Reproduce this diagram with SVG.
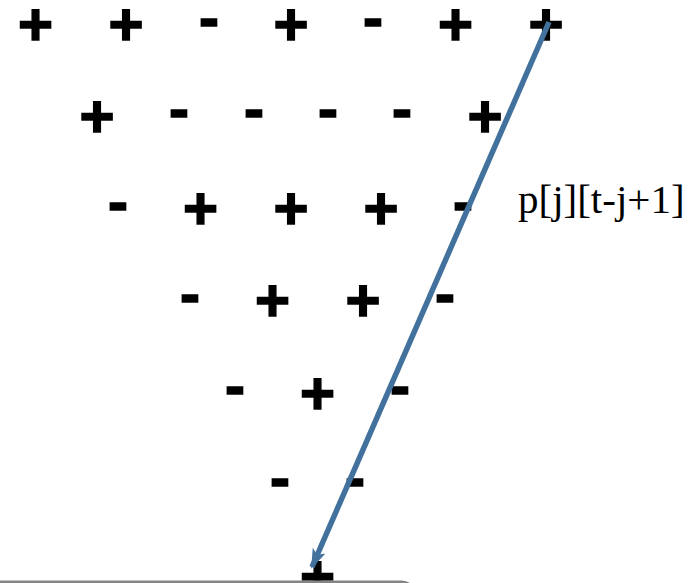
<svg xmlns="http://www.w3.org/2000/svg" width="700" height="583" viewBox="0 0 700 583">
<style>
.s{font-family:"Liberation Sans",Arial,sans-serif;font-weight:bold;font-size:60px;fill:#000;stroke:#000;stroke-width:1.5px;text-anchor:middle}
.lbl{font-family:"Liberation Serif","Times New Roman",serif;font-size:41px;fill:#000}
</style>
<defs>
<marker id="ah" markerWidth="20" markerHeight="14" refX="18" refY="7" orient="auto" markerUnits="userSpaceOnUse" viewBox="0 0 20 14">
<path d="M0,0 L20,7 L0,14 L5,7 z" fill="#41719C"/>
</marker>
</defs>
<rect width="700" height="583" fill="#fff"/>
<g id="signs">
<g id="row1">
<text class="s" x="35.5" y="44.5">+</text>
<text class="s" x="126" y="44.5">+</text>
<text class="s" x="209" y="37.5">-</text>
<text class="s" x="291" y="44.5">+</text>
<text class="s" x="373" y="37.5">-</text>
<text class="s" x="455.5" y="44.5">+</text>
<text class="s" x="546" y="44.5">+</text>
</g>
<g id="row2">
<text class="s" x="97" y="136.5">+</text>
<text class="s" x="179" y="129">-</text>
<text class="s" x="254" y="129">-</text>
<text class="s" x="328" y="129">-</text>
<text class="s" x="402" y="129">-</text>
<text class="s" x="485" y="136.5">+</text>
</g>
<g id="row3">
<text class="s" x="118" y="221.5">-</text>
<text class="s" x="200.5" y="229">+</text>
<text class="s" x="291" y="229">+</text>
<text class="s" x="381" y="229">+</text>
<text class="s" x="463" y="221.5">-</text>
</g>
<g id="row4">
<text class="s" x="190" y="313.5">-</text>
<text class="s" x="272.5" y="321">+</text>
<text class="s" x="363" y="321">+</text>
<text class="s" x="445" y="313.5">-</text>
</g>
<g id="row5">
<text class="s" x="235" y="405.5">-</text>
<text class="s" x="317.5" y="414">+</text>
<text class="s" x="400" y="405.5">-</text>
</g>
<g id="row6">
<text class="s" x="280" y="497.5">-</text>
<text class="s" x="355" y="497.5">-</text>
</g>
<g id="row7">
<text class="s" x="317.5" y="597">+</text>
</g>
</g>
<g id="base">
<rect x="-20" y="580.5" width="436" height="40" rx="14" fill="#858585"/>
</g>
<g id="connectors">
<line x1="549" y1="22" x2="312" y2="567" stroke="#41719C" stroke-width="5.5" marker-end="url(#ah)"/>
</g>
<g id="label">
<text class="lbl" x="518" y="213">p[j][t-j+1]</text>
</g>
</svg>
